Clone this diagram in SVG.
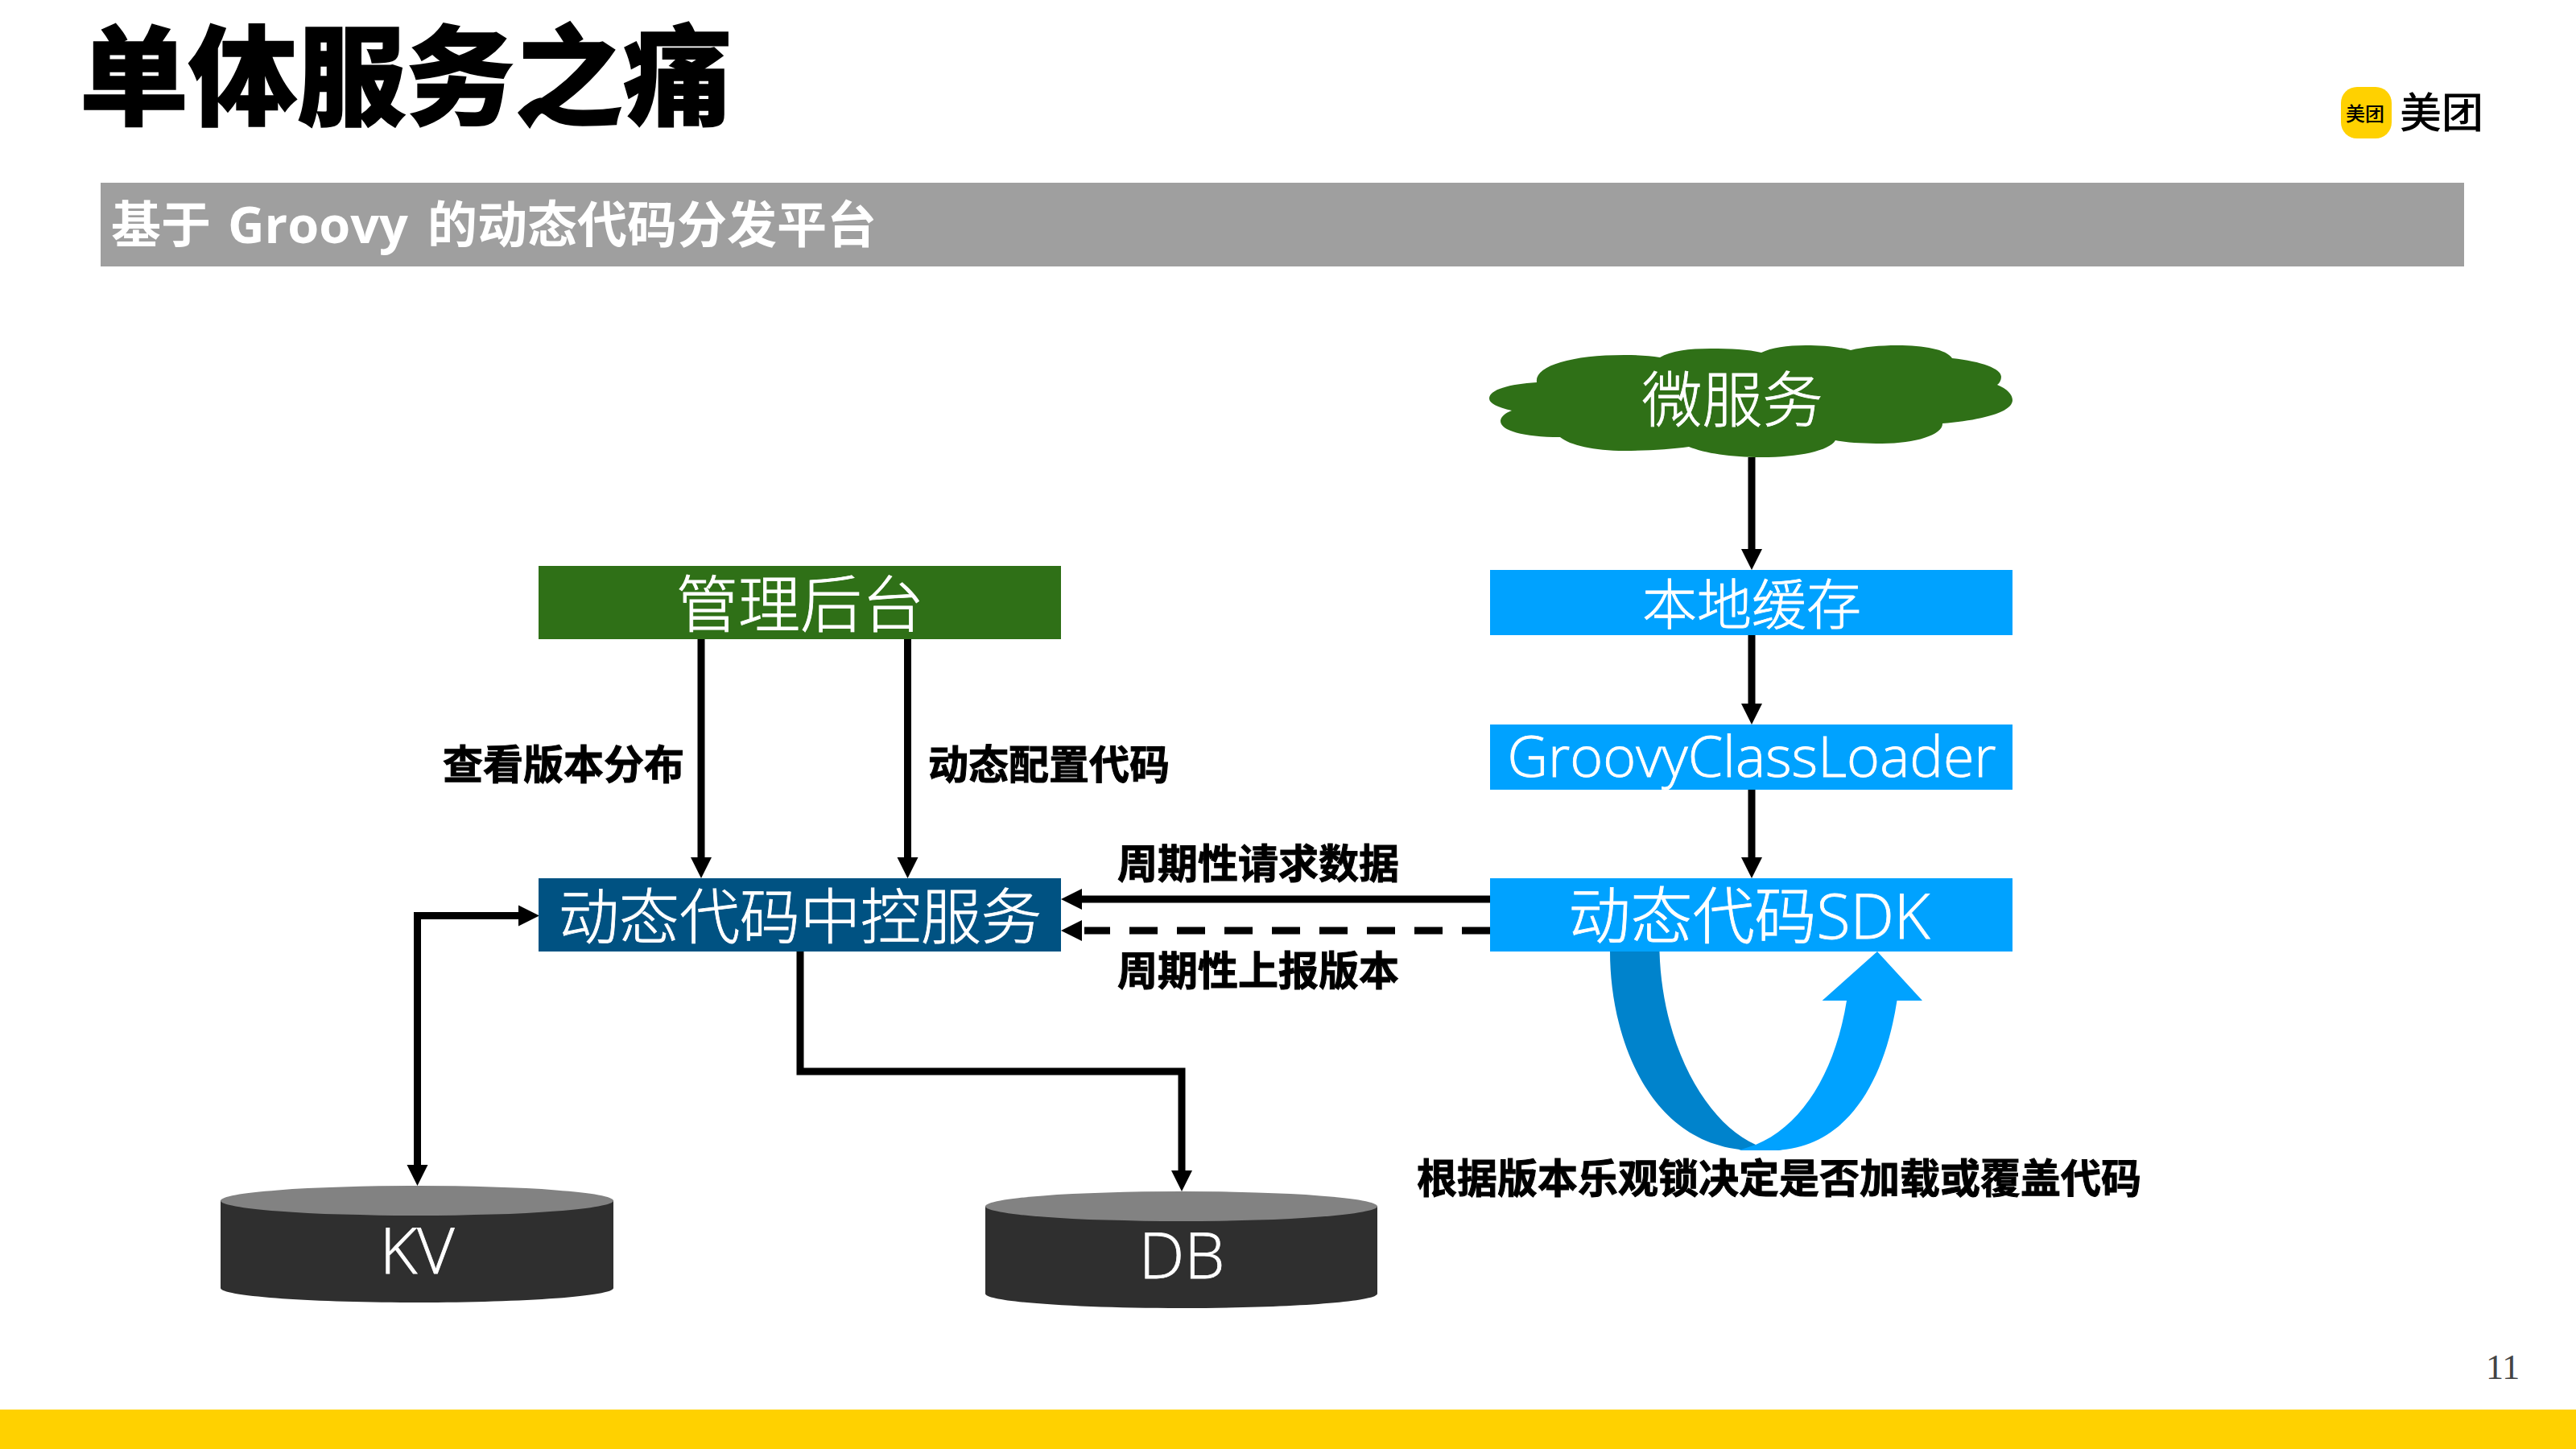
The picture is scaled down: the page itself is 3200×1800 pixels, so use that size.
<svg xmlns="http://www.w3.org/2000/svg" width="3200" height="1800" viewBox="0 0 3200 1800">
<style>
text{font-family:"Liberation Sans","Noto Sans CJK SC",sans-serif}
.w{fill:#fff;stroke:#fff;stroke-width:.8px;font-size:75px;font-weight:300;text-anchor:middle;font-family:"Open Sans","Noto Sans CJK SC",sans-serif}
.l{fill:#000;stroke:#000;stroke-width:1px;font-size:50px;font-weight:700}
.c{fill:none;stroke:#000;stroke-width:9}
.top{fill:#828282}.body{fill:#2f2f2f}
</style>
<defs>
<marker id="a" markerUnits="userSpaceOnUse" markerWidth="27" markerHeight="28" refX="8" refY="14" orient="auto-start-reverse"><path d="M0 1L26 14L0 27Z" fill="#000"/></marker>
</defs>
<rect id="footer" x="0" y="1751" width="3200" height="49" fill="#ffd100"/>
<text x="99" y="145" style="font-size:135px;font-weight:900;stroke:#000;stroke-width:1.500px" fill="#000">单体服务之痛</text>
<g id="logo">
<rect x="2908" y="108" width="63" height="64" rx="20" fill="#ffd100"/>
<text x="2914" y="150" style="font-size:24px;font-weight:500">美团</text>
<text x="2981" y="159" style="font-size:52px;font-weight:500">美团</text>
</g>
<g id="banner"><rect x="125" y="227" width="2936" height="104" fill="#9f9f9f"/>
<text y="302" style="font-size:62px;font-weight:700" fill="#fff"><tspan x="138">基于</tspan><tspan x="283" style="font-family:'Open Sans',sans-serif;font-size:63px">Groovy</tspan><tspan x="531">的动态代码分发平台</tspan></text></g>
<g id="connectors">
<path class="c" d="M2176 568V690" marker-end="url(#a)"/>
<path class="c" d="M2176 789V882" marker-end="url(#a)"/>
<path class="c" d="M2176 981V1073" marker-end="url(#a)"/>
<path class="c" d="M871 794V1073" marker-end="url(#a)"/>
<path class="c" d="M1127.500 794V1073" marker-end="url(#a)"/>
<path class="c" d="M1851 1117H1336" marker-end="url(#a)"/>
<path class="c" d="M1851 1156H1347" stroke-dasharray="35 24"/>
<path d="M1344 1143L1318 1156L1344 1169Z" fill="#000"/>
<path class="c" d="M994 1182V1331H1468V1462" marker-end="url(#a)"/>
<path class="c" d="M652 1137.500H518.500V1455" marker-start="url(#a)" marker-end="url(#a)"/>
</g>
<g id="cloud"><path fill="#2f7017" d="M1909 475C1906 455 1950 441 2018 441C2036 441 2050 442 2062 444C2075 436 2098 433 2125 433C2150 433 2172 434 2188 438C2200 432 2220 429 2243 429C2265 429 2285 431 2299 435C2315 431 2335 429 2357 429C2390 429 2418 434 2425 445C2462 449 2486 458 2486 468C2486 472 2484 476 2481 478C2493 483 2500 490 2500 497C2500 512 2462 522 2413 526C2414 540 2380 551 2338 551C2315 551 2295 550 2280 547C2272 560 2235 568 2188 568C2150 568 2118 563 2098 555C2075 558 2048 560 2018 560C1980 560 1950 553 1938 543C1892 543 1864 535 1864 523C1864 518 1870 513 1878 510C1860 506 1850 501 1850 495C1850 484 1875 477 1909 475Z"/>
<text class="w" x="2152" y="524">微服务</text></g>
<g id="admin"><rect x="669" y="703" width="649" height="91" fill="#2f7017"/><text class="w" x="994" y="779" style="font-size:77px">管理后台</text></g>
<g id="cache"><rect x="1851" y="708" width="649" height="81" fill="#00a2ff"/><text class="w" x="2176" y="776" style="font-size:68px">本地缓存</text></g>
<g id="loader"><rect x="1851" y="900" width="649" height="81" fill="#00a2ff"/><text class="w" x="2176" y="965" style="font-size:70px">GroovyClassLoader</text></g>
<g id="sdk"><rect x="1851" y="1091" width="649" height="91" fill="#00a2ff"/><text class="w" x="2173" y="1166" style="font-size:77px">动态代码SDK</text></g>
<g id="center"><rect x="669" y="1091" width="649" height="91" fill="#005282"/><text class="w" x="994" y="1166">动态代码中控服务</text></g>
<g id="loop">
<path fill="#0083cc" d="M2000 1182C2000 1290 2050 1429 2181 1429L2214 1429L2181 1422C2120 1395 2065 1300 2061.500 1182Z"/>
<path fill="#00a2ff" d="M2181 1422C2240 1398 2280 1330 2294 1243H2263.600L2332 1182L2388 1243H2356.500C2340 1350 2290 1429 2200 1429H2160Z"/>
</g>
<g id="kv"><path class="body" d="M274 1491V1600C274 1610 383 1618 518 1618S762 1610 762 1600V1491Z"/><ellipse class="top" cx="518" cy="1491.500" rx="244" ry="18.500"/><text class="w" x="518" y="1582" style="font-size:80px">KV</text></g>
<g id="db"><path class="body" d="M1224 1498V1607C1224 1617 1333 1625 1467.500 1625S1711 1617 1711 1607V1498Z"/><ellipse class="top" cx="1467.500" cy="1498.500" rx="243.500" ry="18.500"/><text class="w" x="1468" y="1588" style="font-size:80px">DB</text></g>
<text class="l" x="550" y="968">查看版本分布</text>
<text class="l" x="1153" y="968">动态配置代码</text>
<text class="l" x="1388" y="1091">周期性请求数据</text>
<text class="l" x="1388" y="1224">周期性上报版本</text>
<text class="l" x="1760" y="1482">根据版本乐观锁决定是否加载或覆盖代码</text>
<text x="3088" y="1713" style="font-size:44px;font-family:'Liberation Serif',serif" fill="#444">11</text>
</svg>
